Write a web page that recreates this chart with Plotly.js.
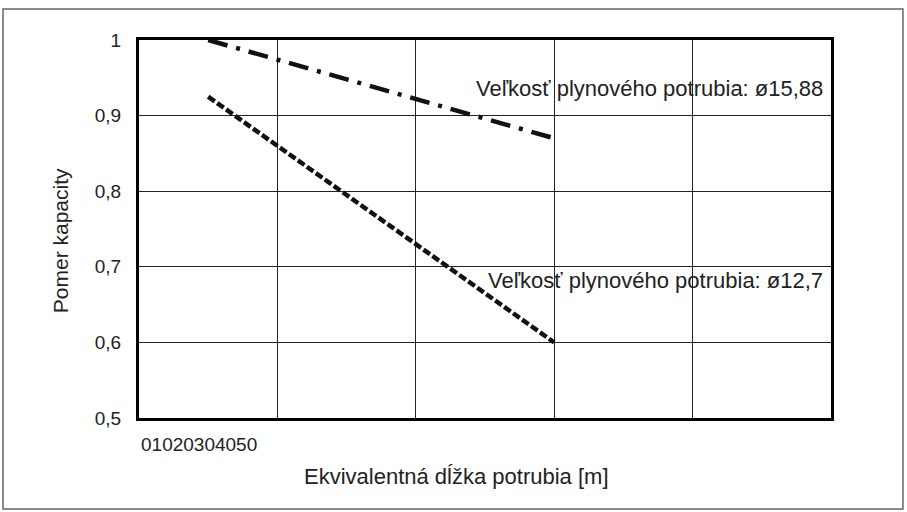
<!DOCTYPE html>
<html>
<head>
<meta charset="utf-8">
<script src="https://cdn.plot.ly/plotly-3.0.1.min.js"></script>
<style>
  html, body { margin: 0; padding: 0; background: #fff; }
  #chart { width: 907px; height: 512px; }
</style>
</head>
<body>
<div id="chart"></div>
<script>
// ekvivalentná dĺžka [m] a pomer kapacity pre dve veľkosti potrubia
const lengths = [5, 30]
const ratio1588 = [1.0, 0.87]
const ratio127 = [0.925, 0.6]
const label1588 = "Veľkosť plynového potrubia: ø15,88"
const label127 = "Veľkosť plynového potrubia: ø12,7"

const xTicks = [0, 10, 20, 30, 40, 50]
const yTicks = [0.5, 0.6, 0.7, 0.8, 0.9, 1]
const yTickText = ["0,5", "0,6", "0,7", "0,8", "0,9", "1"]

const ink = "#222"
const family = "'Liberation Sans', Arial, sans-serif"
const tickFont = { family: family, size: 19, color: ink }
const textFont = { family: family, size: 22, color: ink }

const traces = [
  {
    x: lengths, y: ratio1588, type: "scatter", mode: "lines",
    line: { color: "#111", width: 4.5, dash: "20px,9px,4px,9px" },
    hoverinfo: "skip"
  },
  {
    x: lengths, y: ratio127, type: "scatter", mode: "lines",
    line: { color: "#111", width: 4.5, dash: "8px,3px" },
    hoverinfo: "skip"
  }
]

const layout = {
  width: 907,
  height: 512,
  margin: { l: 139, r: 76, t: 40, b: 94 },
  paper_bgcolor: "#fff",
  plot_bgcolor: "#fff",
  font: tickFont,
  showlegend: false,
  xaxis: {
    range: [0, 50],
    tickvals: xTicks,
    showticklabels: false,
    showgrid: true, gridcolor: "#222", gridwidth: 1.3,
    showline: true, mirror: true, linecolor: "#000", linewidth: 3,
    zeroline: false, ticks: ""
  },
  yaxis: {
    range: [0.5, 1],
    tickvals: yTicks,
    ticktext: yTickText,
    tickfont: tickFont,
    ticklabelstandoff: 11,
    showgrid: true, gridcolor: "#222", gridwidth: 1.3,
    showline: true, mirror: true, linecolor: "#000", linewidth: 3,
    zeroline: false, ticks: ""
  },
  annotations: [
    // osové popisy (kreslené ako text, pôvodná mriežka ich má posunuté)
    { xref: "paper", yref: "paper", x: 0, y: -0.0714, xanchor: "left", yanchor: "middle",
      text: xTicks.join(""), showarrow: false, font: tickFont },
    { xref: "paper", yref: "paper", x: 0.4595, y: -0.156, xanchor: "center", yanchor: "middle",
      text: "Ekvivalentná dĺžka potrubia [m]", showarrow: false, font: textFont },
    { xref: "paper", yref: "paper", x: -0.114, y: 0.468, xanchor: "center", yanchor: "middle",
      text: "Pomer kapacity", textangle: -90, showarrow: false,
      font: { family: family, size: 21, color: ink } },
    { x: 49.6, y: 0.9365, xanchor: "right", yanchor: "middle",
      text: label1588, showarrow: false, font: textFont },
    { x: 49.6, y: 0.6825, xanchor: "right", yanchor: "middle",
      text: label127, showarrow: false, font: textFont }
  ],
  shapes: [
    // rámik okolo celého obrázka
    { type: "rect", xref: "paper", yref: "paper",
      x0: -0.1965, x1: 1.104, y0: -0.2407, y1: 1.082,
      line: { color: "#666", width: 1.5 }, layer: "below" }
  ]
}

Plotly.newPlot("chart", traces, layout, { displayModeBar: false, staticPlot: true })
</script>
</body>
</html>
